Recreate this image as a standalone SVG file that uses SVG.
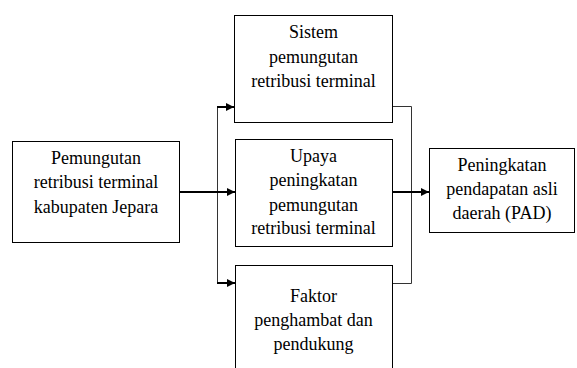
<svg xmlns="http://www.w3.org/2000/svg" width="577" height="368" viewBox="0 0 577 368">
<style>
.box{fill:#fff;stroke:#000;stroke-width:1}
.thin{fill:none;stroke:#333;stroke-width:1}
.thick{fill:none;stroke:#000;stroke-width:2}
</style>
<defs>
<marker id="ah" markerWidth="8" markerHeight="8" refX="8" refY="4" orient="auto" markerUnits="userSpaceOnUse">
<path d="M0,0 L8,4 L0,8 Z" fill="#000"/>
</marker>
</defs>
<rect width="577" height="368" fill="#fff"/>
<g id="connectors">
<line class="thin" x1="217.5" y1="106" x2="217.5" y2="284"/>
<line class="thin" x1="411.5" y1="106.5" x2="411.5" y2="283.5"/>
<line class="thin" x1="393" y1="106.5" x2="411.5" y2="106.5"/>
<line class="thin" x1="393" y1="283.5" x2="411.5" y2="283.5"/>
<line class="thick" x1="180" y1="192" x2="235" y2="192" marker-end="url(#ah)"/>
<line class="thick" x1="217" y1="107" x2="234" y2="107" marker-end="url(#ah)"/>
<line class="thick" x1="217" y1="283" x2="235" y2="283" marker-end="url(#ah)"/>
<line class="thick" x1="393" y1="192" x2="429" y2="192" marker-end="url(#ah)"/>
</g>
<g id="n1">
<rect class="box" x="12.5" y="141.5" width="167" height="101"/>
<text font-family="Times New Roman" font-size="18" x="96" y="164" text-anchor="middle">Pemungutan</text>
<text font-family="Times New Roman" font-size="18" x="96" y="188" text-anchor="middle">retribusi terminal</text>
<text font-family="Times New Roman" font-size="18" x="96" y="213" text-anchor="middle">kabupaten Jepara</text>
</g>
<g id="n2">
<rect class="box" x="234.5" y="15.5" width="158" height="107"/>
<text font-family="Times New Roman" font-size="18" x="313.5" y="38" text-anchor="middle">Sistem</text>
<text font-family="Times New Roman" font-size="18" x="313.5" y="63" text-anchor="middle">pemungutan</text>
<text font-family="Times New Roman" font-size="18" x="313.5" y="87" text-anchor="middle">retribusi terminal</text>
</g>
<g id="n3">
<rect class="box" x="235.5" y="139.5" width="157" height="107"/>
<text font-family="Times New Roman" font-size="18" x="313.5" y="162" text-anchor="middle">Upaya</text>
<text font-family="Times New Roman" font-size="18" x="313.5" y="186" text-anchor="middle">peningkatan</text>
<text font-family="Times New Roman" font-size="18" x="313.5" y="211" text-anchor="middle">pemungutan</text>
<text font-family="Times New Roman" font-size="18" x="313.5" y="234" text-anchor="middle">retribusi terminal</text>
</g>
<g id="n4">
<rect class="box" x="235.5" y="265.5" width="157" height="110"/>
<text font-family="Times New Roman" font-size="18" x="313.5" y="302" text-anchor="middle">Faktor</text>
<text font-family="Times New Roman" font-size="18" x="313.5" y="326" text-anchor="middle">penghambat dan</text>
<text font-family="Times New Roman" font-size="18" x="313.5" y="350" text-anchor="middle">pendukung</text>
</g>
<g id="n5">
<rect class="box" x="429.5" y="148.5" width="145" height="84"/>
<text font-family="Times New Roman" font-size="18" x="502" y="171" text-anchor="middle">Peningkatan</text>
<text font-family="Times New Roman" font-size="18" x="502" y="195" text-anchor="middle">pendapatan asli</text>
<text font-family="Times New Roman" font-size="18" x="502" y="219" text-anchor="middle">daerah (PAD)</text>
</g>
</svg>
